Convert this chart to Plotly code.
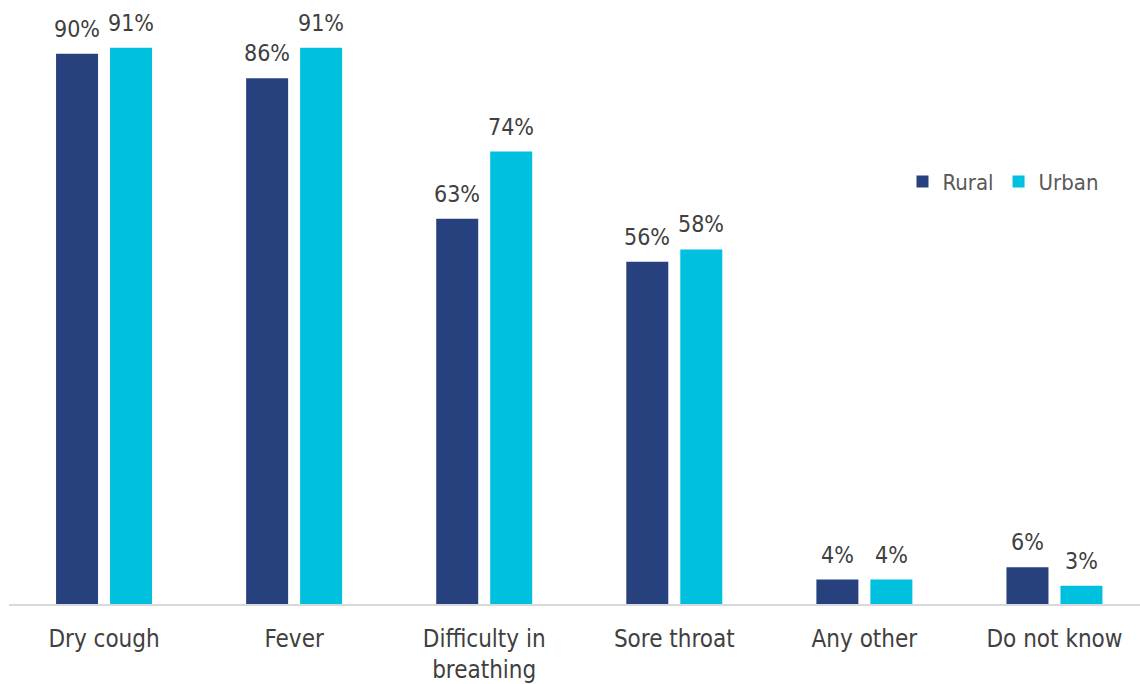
import plotly.graph_objects as go

categories = ["Dry cough", "Fever", "Difficulty in<br>breathing", "Sore throat", "Any other", "Do not know"]
rural = [90, 86, 63, 56, 4, 6]
urban = [91, 91, 74, 58, 4, 3]
series_names = ["Rural", "Urban"]
colors = ["#27407e", "#00c0df"]

FONT = "DejaVu Sans Condensed"
TEXT = "#404040"

x_idx = list(range(len(categories)))

fig = go.Figure()
for name, vals, col in zip(series_names, [rural, urban], colors):
    fig.add_trace(go.Bar(x=x_idx, y=vals, name=name, marker=dict(color=col, line=dict(width=0))))

annotations = []
for vals, shift in [(rural, -27), (urban, 27)]:
    for i, v in enumerate(vals):
        annotations.append(dict(x=i, y=v, xref="x", yref="y", text=f"{v}%", showarrow=False,
                                xshift=shift, yshift=10, yanchor="bottom",
                                font=dict(family=FONT, size=23, color=TEXT)))

fig.update_layout(
    width=1140, height=684,
    margin=dict(l=9, r=0, t=0, b=80, autoexpand=False),
    paper_bgcolor="white", plot_bgcolor="white",
    barmode="group", bargap=0.432, bargroupgap=0.222,
    showlegend=True,
    legend=dict(orientation="h", x=0.79, xanchor="left", y=0.699, yanchor="middle",
                font=dict(family=FONT, size=22, color="#595959"), bgcolor="rgba(0,0,0,0)",
                itemwidth=30, tracegroupgap=0),
    annotations=annotations,
    xaxis=dict(tickmode="array", tickvals=x_idx, ticktext=categories, range=[-0.5, 5.45],
               showline=True, linecolor="#d9d9d9", linewidth=1.5, showgrid=False, zeroline=False,
               ticks="", ticklabelstandoff=12, automargin=False,
               tickfont=dict(family=FONT, size=24, color=TEXT)),
    yaxis=dict(range=[0, 98.8], visible=False, showgrid=False, zeroline=False, automargin=False),
)

fig.write_html("out.html")
